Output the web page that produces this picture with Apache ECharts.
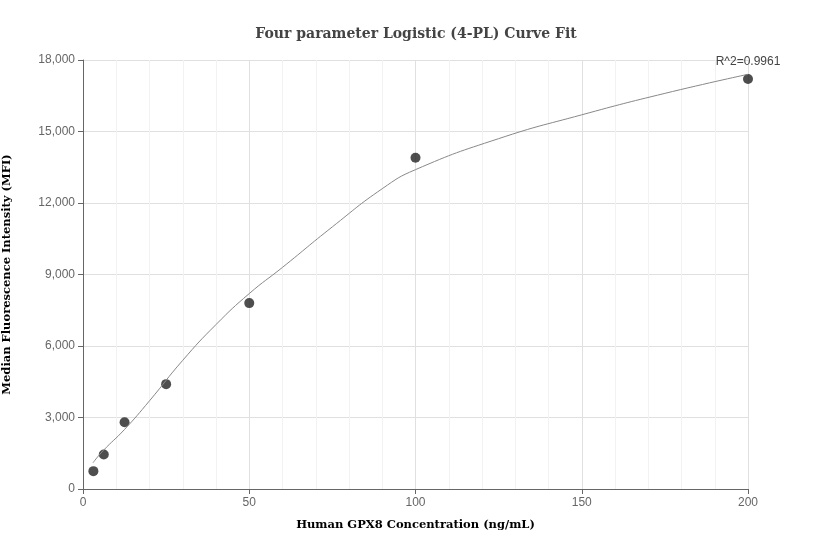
<!DOCTYPE html>
<html lang="en">
<head>
    <meta charset="UTF-8">
    <title>4-PL Curve Fit</title>
    <script src="https://cdn.jsdelivr.net/npm/echarts@6.0.0/dist/echarts.min.js"></script>
</head>
<body style="margin:0">
    <div id="main" style="width: 832px;height:560px;"></div>
    <script type="text/javascript">
        // measured points
        const concentrations = [3.125, 6.25, 12.5, 25, 50, 100, 200];
        const mfiValues = [750, 1450, 2800, 4400, 7800, 13900, 17200];
        // fitted curve
        const curveX = [3, 6, 12.5, 20, 30, 40, 50, 60, 75, 90, 100, 125, 150, 175, 200];
        const curveY = [1100, 1600, 2500, 3700, 5400, 6900, 8200, 9300, 11000, 12600, 13400, 14700, 15700, 16600, 17400];

        let myChart = echarts.init(document.getElementById('main'));

        let options = {
            title: {
                text: 'Four parameter Logistic (4-PL) Curve Fit',
                left: 'center', top: 22,
                textStyle: { fontFamily: 'DejaVu Serif', fontSize: 14, fontWeight: 'bold', color: '#444' }
            },
            grid: { left: 83, right: 84, top: 60, bottom: 71, containLabel: false, outerBoundsMode: 'none' },
            xAxis: {
                type: 'value', min: 0, max: 200, interval: 50,
                name: 'Human GPX8 Concentration (ng/mL)', nameLocation: 'middle', nameGap: 30,
                nameTextStyle: { fontFamily: 'DejaVu Serif', fontSize: 11.5, fontWeight: 'bold', color: '#000' },
                axisLine: { lineStyle: { color: '#666' } },
                axisTick: { show: true, lineStyle: { color: '#666' } },
                axisLabel: { color: '#666', fontSize: 12 },
                splitLine: { lineStyle: { color: '#e0e0e0' } },
                minorTick: { show: false, splitNumber: 5 },
                minorSplitLine: { show: true, lineStyle: { color: '#f2f2f2' } }
            },
            yAxis: {
                type: 'value', min: 0, max: 18000, interval: 3000,
                name: 'Median Fluorescence Intensity (MFI)', nameLocation: 'middle', nameGap: 70,
                nameTextStyle: { fontFamily: 'DejaVu Serif', fontSize: 11.5, fontWeight: 'bold', color: '#000' },
                axisLine: { show: true, lineStyle: { color: '#666' } },
                axisTick: { show: true, lineStyle: { color: '#666' } },
                axisLabel: { color: '#666', fontSize: 12 },
                splitLine: { lineStyle: { color: '#e0e0e0' } }
            },
            series: [
                {
                    type: 'line', smooth: true, symbol: 'none',
                    data: curveX.map((x, i) => [x, curveY[i]]),
                    lineStyle: { color: '#888', width: 1 },
                    markPoint: {
                        symbol: 'circle', symbolSize: 0,
                        data: [{ coord: [200, 17400], value: 'R^2=0.9961' }],
                        label: { show: true, position: 'top', offset: [0, -2], color: '#444', fontSize: 12, formatter: 'R^2=0.9961' }
                    }
                },
                {
                    type: 'scatter', symbolSize: 10,
                    data: concentrations.map((x, i) => [x, mfiValues[i]]),
                    itemStyle: { color: '#222' }
                }
            ]
        };

        myChart.setOption(options);
    </script>
</body>
</html>
